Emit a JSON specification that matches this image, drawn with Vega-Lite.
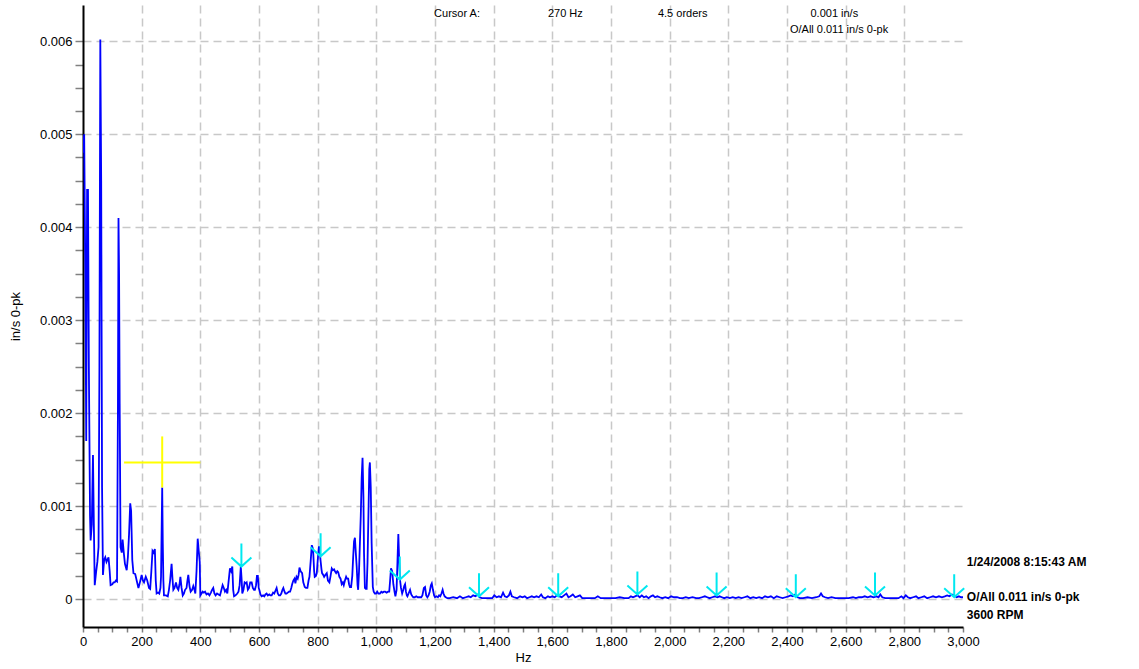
{
  "$schema": "https://vega.github.io/schema/vega-lite/v6.json",
  "width": 880,
  "height": 622,
  "autosize": "none",
  "padding": {"left": 83, "top": 5, "right": 176, "bottom": 42},
  "background": "white",
  "config": {"view": {"stroke": null}, "font": "Liberation Sans"},
  "datasets": {
    "spectrum": [
      {"hz":0,"v":0.0048},{"hz":4,"v":0.005},{"hz":8,"v":0.0035},{"hz":11,"v":0.0017},{"hz":14,"v":0.0044},{"hz":17,"v":0.0044},{"hz":20,"v":0.0025},{"hz":24,"v":0.0009},{"hz":26,"v":0.00063},{"hz":30,"v":0.0008},{"hz":34,"v":0.00155},{"hz":37,"v":0.0008},{"hz":40,"v":0.00015},{"hz":45,"v":0.0003},{"hz":49,"v":0.0004},{"hz":53,"v":0.00056},{"hz":56,"v":0.0025},{"hz":59,"v":0.00602},{"hz":62,"v":0.0045},{"hz":65,"v":0.0012},{"hz":68,"v":0.00026},{"hz":72,"v":0.00042},{"hz":76,"v":0.00045},{"hz":80,"v":0.0004},{"hz":87,"v":0.00045},{"hz":91,"v":0.0003},{"hz":94,"v":0.00015},{"hz":100,"v":0.00016},{"hz":104,"v":0.00018},{"hz":108,"v":0.00018},{"hz":112,"v":0.0002},{"hz":116,"v":0.00019},{"hz":119,"v":0.002},{"hz":121,"v":0.0041},{"hz":123,"v":0.0035},{"hz":125,"v":0.0021},{"hz":128,"v":0.00056},{"hz":132,"v":0.0005},{"hz":135,"v":0.00064},{"hz":139,"v":0.0005},{"hz":143,"v":0.00038},{"hz":149,"v":0.00031},{"hz":153,"v":0.00045},{"hz":157,"v":0.0007},{"hz":161,"v":0.00103},{"hz":164,"v":0.00095},{"hz":168,"v":0.00042},{"hz":172,"v":0.00028},{"hz":178,"v":0.00027},{"hz":183,"v":0.0002},{"hz":189,"v":0.00012},{"hz":194,"v":0.00018},{"hz":200,"v":0.00026},{"hz":204,"v":0.0002},{"hz":208,"v":0.00018},{"hz":214,"v":0.00024},{"hz":219,"v":0.0002},{"hz":225,"v":0.00012},{"hz":229,"v":0.00011},{"hz":233,"v":0.0003},{"hz":237,"v":0.00052},{"hz":241,"v":0.0005},{"hz":245,"v":0.00054},{"hz":248,"v":0.0002},{"hz":251,"v":0.00006},{"hz":256,"v":0.00007},{"hz":260,"v":0.00006},{"hz":264,"v":0.00012},{"hz":266,"v":0.00024},{"hz":270,"v":0.0012},{"hz":272,"v":0.0006},{"hz":274,"v":0.0002},{"hz":276,"v":0.00004},{"hz":283,"v":0.00004},{"hz":289,"v":0.00003},{"hz":293,"v":0.0001},{"hz":297,"v":0.0002},{"hz":302,"v":0.00038},{"hz":305,"v":0.00022},{"hz":308,"v":0.0001},{"hz":312,"v":0.00012},{"hz":317,"v":0.00018},{"hz":321,"v":0.00012},{"hz":325,"v":0.0001},{"hz":329,"v":0.00016},{"hz":332,"v":0.00024},{"hz":336,"v":0.00012},{"hz":340,"v":0.00004},{"hz":344,"v":0.00006},{"hz":348,"v":0.0001},{"hz":353,"v":0.00012},{"hz":356,"v":0.0002},{"hz":359,"v":0.00026},{"hz":363,"v":0.00014},{"hz":367,"v":0.00008},{"hz":372,"v":0.0001},{"hz":376,"v":0.00014},{"hz":380,"v":0.0001},{"hz":383,"v":0.00006},{"hz":387,"v":0.0003},{"hz":391,"v":0.00065},{"hz":395,"v":0.0005},{"hz":398,"v":0.0004},{"hz":400,"v":0.00004},
      {"hz":404,"v":0.00006},{"hz":408,"v":0.00008},{"hz":412,"v":0.00007},{"hz":416,"v":0.00008},{"hz":421,"v":0.00005},{"hz":426,"v":0.00006},{"hz":431,"v":0.00004},{"hz":436,"v":0.00007},{"hz":440,"v":0.0001},{"hz":444,"v":0.00012},{"hz":448,"v":0.00006},{"hz":452,"v":0.00004},{"hz":457,"v":0.00006},{"hz":462,"v":0.00005},{"hz":467,"v":0.00004},{"hz":472,"v":0.0001},{"hz":476,"v":0.00015},{"hz":480,"v":0.00012},{"hz":484,"v":0.00008},{"hz":488,"v":0.0001},{"hz":492,"v":0.00006},{"hz":496,"v":0.00018},{"hz":501,"v":0.00033},{"hz":505,"v":0.0003},{"hz":509,"v":0.00035},{"hz":512,"v":0.0001},{"hz":515,"v":0.00003},{"hz":520,"v":0.00004},{"hz":526,"v":0.00006},{"hz":530,"v":0.00008},{"hz":534,"v":0.00015},{"hz":538,"v":0.00035},{"hz":541,"v":0.0002},{"hz":543,"v":0.00006},{"hz":547,"v":0.0001},{"hz":551,"v":0.00018},{"hz":555,"v":0.00017},{"hz":558,"v":0.00018},{"hz":562,"v":0.0001},{"hz":566,"v":0.00012},{"hz":570,"v":0.00018},{"hz":575,"v":0.00018},{"hz":579,"v":0.00012},{"hz":583,"v":0.0001},{"hz":586,"v":0.0001},{"hz":590,"v":0.00015},{"hz":593,"v":0.00025},{"hz":596,"v":0.00025},{"hz":599,"v":0.00012},{"hz":601,"v":0.0001},{"hz":605,"v":0.00005},{"hz":609,"v":0.00003},{"hz":614,"v":0.00004},{"hz":618,"v":0.00003},{"hz":622,"v":0.00005},{"hz":626,"v":0.00006},{"hz":630,"v":0.00004},{"hz":635,"v":0.00005},{"hz":639,"v":0.00004},{"hz":643,"v":0.00004},{"hz":648,"v":0.00007},{"hz":652,"v":0.00006},{"hz":656,"v":0.00009},{"hz":660,"v":0.00012},{"hz":664,"v":0.00006},{"hz":668,"v":0.00004},{"hz":672,"v":0.00004},{"hz":676,"v":0.00006},{"hz":680,"v":0.0001},{"hz":683,"v":0.00012},{"hz":687,"v":0.00008},{"hz":690,"v":0.00006},{"hz":694,"v":0.00006},{"hz":698,"v":0.00007},{"hz":702,"v":0.00008},{"hz":706,"v":0.00008},{"hz":710,"v":0.00012},{"hz":713,"v":0.00016},{"hz":717,"v":0.0002},{"hz":721,"v":0.00022},{"hz":724,"v":0.00017},{"hz":728,"v":0.00024},{"hz":732,"v":0.00022},{"hz":735,"v":0.00026},{"hz":738,"v":0.00034},{"hz":742,"v":0.0003},{"hz":747,"v":0.00028},{"hz":751,"v":0.00018},{"hz":756,"v":0.00013},{"hz":760,"v":0.00012},{"hz":765,"v":0.00012},{"hz":769,"v":0.0002},{"hz":772,"v":0.00024},{"hz":776,"v":0.0004},{"hz":780,"v":0.00058},{"hz":783,"v":0.00055},{"hz":785,"v":0.00049},{"hz":788,"v":0.0003},{"hz":790,"v":0.00024},{"hz":794,"v":0.00025},{"hz":797,"v":0.00028},{"hz":801,"v":0.00045},{"hz":804,"v":0.00056},{"hz":806,"v":0.00056},{"hz":808,"v":0.00048},{"hz":810,"v":0.00041},{"hz":813,"v":0.00032},{"hz":815,"v":0.00028},{"hz":819,"v":0.00026},{"hz":822,"v":0.00024},{"hz":826,"v":0.00026},{"hz":831,"v":0.00028},{"hz":835,"v":0.0002},{"hz":840,"v":0.00018},{"hz":844,"v":0.00025},{"hz":848,"v":0.00033},{"hz":852,"v":0.00031},{"hz":856,"v":0.00032},{"hz":859,"v":0.0003},{"hz":863,"v":0.00028},{"hz":867,"v":0.0003},{"hz":870,"v":0.00029},{"hz":874,"v":0.00024},{"hz":878,"v":0.00022},{"hz":882,"v":0.00016},{"hz":886,"v":0.00018},{"hz":889,"v":0.00015},{"hz":893,"v":0.0002},{"hz":897,"v":0.00024},{"hz":900,"v":0.00022},{"hz":904,"v":0.00022},{"hz":907,"v":0.00016},{"hz":910,"v":0.00013},{"hz":914,"v":0.00013},{"hz":918,"v":0.00025},{"hz":921,"v":0.00045},{"hz":924,"v":0.00062},{"hz":927,"v":0.00066},{"hz":930,"v":0.0005},{"hz":933,"v":0.00035},{"hz":936,"v":0.00015},{"hz":938,"v":0.0001},{"hz":941,"v":0.0003},{"hz":944,"v":0.0006},{"hz":947,"v":0.0009},{"hz":950,"v":0.0013},{"hz":953,"v":0.00152},{"hz":956,"v":0.0011},{"hz":958,"v":0.0005},{"hz":961,"v":0.00012},{"hz":964,"v":0.00011},{"hz":967,"v":0.00011},{"hz":970,"v":0.0004},{"hz":973,"v":0.0009},{"hz":976,"v":0.0014},{"hz":978,"v":0.00147},{"hz":981,"v":0.0012},{"hz":984,"v":0.0006},{"hz":988,"v":0.00013},{"hz":991,"v":0.00008},{"hz":995,"v":0.00006},{"hz":999,"v":0.00006},{"hz":1003,"v":0.00008},{"hz":1007,"v":0.00006},{"hz":1012,"v":0.00006},{"hz":1017,"v":0.00008},{"hz":1021,"v":0.00007},{"hz":1026,"v":0.00008},{"hz":1030,"v":0.00008},{"hz":1035,"v":0.00007},{"hz":1040,"v":0.00008},{"hz":1044,"v":0.00008},{"hz":1047,"v":0.0002},{"hz":1050,"v":0.00033},{"hz":1054,"v":0.0003},{"hz":1058,"v":0.00016},{"hz":1062,"v":0.00008},{"hz":1065,"v":0.00003},{"hz":1069,"v":0.0001},{"hz":1072,"v":0.0004},{"hz":1075,"v":0.0007},{"hz":1078,"v":0.0004},{"hz":1081,"v":0.0002},{"hz":1084,"v":0.00012},{"hz":1088,"v":0.00006},{"hz":1092,"v":0.0001},{"hz":1095,"v":0.00014},{"hz":1098,"v":0.00016},{"hz":1101,"v":0.00008},{"hz":1104,"v":0.00004},{"hz":1106,"v":0.00003},{"hz":1110,"v":0.00006},{"hz":1115,"v":0.0001},{"hz":1119,"v":0.00005},{"hz":1123,"v":0.00003},{"hz":1126,"v":0.00002},{"hz":1131,"v":0.00002},{"hz":1136,"v":0.00003},{"hz":1141,"v":0.00002},{"hz":1145,"v":0.00002},{"hz":1149,"v":0.00002},{"hz":1153,"v":0.00002},{"hz":1157,"v":0.00004},{"hz":1162,"v":0.00012},{"hz":1166,"v":0.00013},{"hz":1170,"v":0.00004},{"hz":1174,"v":0.00002},{"hz":1178,"v":0.00004},{"hz":1182,"v":0.00008},{"hz":1186,"v":0.00015},{"hz":1189,"v":0.00017},{"hz":1193,"v":0.0001},{"hz":1197,"v":0.00004},{"hz":1200,"v":0.00002},{"hz":1205,"v":0.00003},{"hz":1210,"v":0.00002},{"hz":1214,"v":0.00004},{"hz":1218,"v":0.00003},{"hz":1222,"v":0.00006},{"hz":1226,"v":0.0001},{"hz":1229,"v":0.00006},{"hz":1233,"v":0.00003},{"hz":1237,"v":0.00002},{"hz":1242,"v":0.00001},
      {"hz":1250,"v":0.00001},{"hz":1262,"v":0.00002},{"hz":1275,"v":0.00001},{"hz":1285,"v":0.00003},{"hz":1295,"v":0.00001},{"hz":1305,"v":0.00002},{"hz":1315,"v":0.00003},{"hz":1322,"v":0.00002},{"hz":1330,"v":0.00004},{"hz":1338,"v":0.00003},{"hz":1346,"v":0.00005},{"hz":1352,"v":0.00002},{"hz":1360,"v":0.00001},{"hz":1372,"v":0.00001},{"hz":1385,"v":0.00001},{"hz":1395,"v":0.00001},{"hz":1402,"v":0.00004},{"hz":1410,"v":0.00002},{"hz":1418,"v":0.00003},{"hz":1425,"v":0.00002},{"hz":1432,"v":0.00007},{"hz":1438,"v":0.00003},{"hz":1445,"v":0.00002},{"hz":1452,"v":0.00004},{"hz":1457,"v":0.00008},{"hz":1462,"v":0.00003},{"hz":1470,"v":0.00002},{"hz":1480,"v":0.00001},{"hz":1490,"v":0.00003},{"hz":1498,"v":0.00002},{"hz":1506,"v":0.00003},{"hz":1514,"v":0.00001},{"hz":1522,"v":0.00002},{"hz":1530,"v":0.00003},{"hz":1538,"v":0.00002},{"hz":1546,"v":0.00003},{"hz":1554,"v":0.00002},{"hz":1562,"v":0.00005},{"hz":1568,"v":0.00002},{"hz":1576,"v":0.00001},{"hz":1585,"v":0.00003},{"hz":1592,"v":0.00002},{"hz":1600,"v":0.00003},{"hz":1608,"v":0.00002},{"hz":1616,"v":0.00004},{"hz":1624,"v":0.00003},{"hz":1632,"v":0.00002},{"hz":1640,"v":0.00004},{"hz":1648,"v":0.00006},{"hz":1655,"v":0.00002},{"hz":1662,"v":0.00003},{"hz":1670,"v":0.00005},{"hz":1678,"v":0.00002},{"hz":1686,"v":0.00003},{"hz":1694,"v":0.00004},{"hz":1702,"v":0.00001},{"hz":1715,"v":0.00001},{"hz":1730,"v":0.00001},{"hz":1745,"v":0.00001},{"hz":1755,"v":0.00003},{"hz":1765,"v":0.00001},{"hz":1780,"v":0.00001},{"hz":1800,"v":0.00001},{"hz":1815,"v":0.00001},{"hz":1830,"v":0.00002},{"hz":1845,"v":0.00001},{"hz":1860,"v":0.00001},{"hz":1868,"v":0.00003},{"hz":1875,"v":0.00002},{"hz":1882,"v":0.00003},{"hz":1890,"v":0.00004},{"hz":1898,"v":0.00002},{"hz":1905,"v":0.00004},{"hz":1912,"v":0.00002},{"hz":1920,"v":0.00003},{"hz":1928,"v":0.00001},{"hz":1936,"v":0.00003},{"hz":1943,"v":0.00004},{"hz":1950,"v":0.00002},{"hz":1958,"v":0.00003},{"hz":1966,"v":0.00002},{"hz":1975,"v":0.00001},{"hz":1985,"v":0.00002},{"hz":1995,"v":0.00001},{"hz":2005,"v":0.00003},{"hz":2015,"v":0.00002},{"hz":2025,"v":0.00002},{"hz":2035,"v":0.00001},{"hz":2045,"v":0.00001},{"hz":2055,"v":0.00002},{"hz":2065,"v":0.00001},{"hz":2078,"v":0.00002},{"hz":2090,"v":0.00001},{"hz":2100,"v":0.00001},{"hz":2110,"v":0.00002},{"hz":2120,"v":0.00003},{"hz":2128,"v":0.00002},{"hz":2136,"v":0.00001},{"hz":2145,"v":0.00002},{"hz":2155,"v":0.00003},{"hz":2163,"v":0.00002},{"hz":2170,"v":0.00003},{"hz":2178,"v":0.00002},{"hz":2186,"v":0.00001},{"hz":2195,"v":0.00002},{"hz":2205,"v":0.00001},{"hz":2215,"v":0.00002},{"hz":2225,"v":0.00001},{"hz":2235,"v":0.00002},{"hz":2245,"v":0.00001},{"hz":2255,"v":0.00002},{"hz":2265,"v":0.00003},{"hz":2275,"v":0.00001},{"hz":2285,"v":0.00002},{"hz":2295,"v":0.00001},{"hz":2305,"v":0.00002},{"hz":2315,"v":0.00001},{"hz":2325,"v":0.00003},{"hz":2335,"v":0.00002},{"hz":2345,"v":0.00003},{"hz":2355,"v":0.00001},{"hz":2365,"v":0.00003},{"hz":2375,"v":0.00002},{"hz":2385,"v":0.00001},{"hz":2395,"v":0.00002},{"hz":2405,"v":0.00003},{"hz":2412,"v":0.00004},{"hz":2420,"v":0.00003},{"hz":2428,"v":0.00005},{"hz":2436,"v":0.00002},{"hz":2444,"v":0.00001},{"hz":2455,"v":0.00001},{"hz":2470,"v":0.00002},{"hz":2485,"v":0.00001},{"hz":2500,"v":0.00002},{"hz":2510,"v":0.00003},{"hz":2516,"v":0.00006},{"hz":2522,"v":0.00003},{"hz":2530,"v":0.00002},{"hz":2540,"v":0.00001},{"hz":2552,"v":0.00002},{"hz":2565,"v":0.00001},{"hz":2580,"v":0.00001},{"hz":2595,"v":0.00001},{"hz":2610,"v":0.00001},{"hz":2625,"v":0.00002},{"hz":2635,"v":0.00001},{"hz":2645,"v":0.00002},{"hz":2655,"v":0.00002},{"hz":2665,"v":0.00003},{"hz":2675,"v":0.00002},{"hz":2685,"v":0.00003},{"hz":2695,"v":0.00002},{"hz":2705,"v":0.00003},{"hz":2712,"v":0.00002},{"hz":2718,"v":0.00005},{"hz":2725,"v":0.00002},{"hz":2735,"v":0.00001},{"hz":2750,"v":0.00001},{"hz":2765,"v":0.00001},{"hz":2780,"v":0.00001},{"hz":2790,"v":0.00003},{"hz":2797,"v":0.00001},{"hz":2805,"v":0.00004},{"hz":2812,"v":0.00002},{"hz":2820,"v":0.00001},{"hz":2830,"v":0.00002},{"hz":2840,"v":0.00003},{"hz":2848,"v":0.00001},{"hz":2858,"v":0.00002},{"hz":2868,"v":0.00003},{"hz":2878,"v":0.00001},{"hz":2888,"v":0.00002},{"hz":2898,"v":0.00003},{"hz":2908,"v":0.00002},{"hz":2918,"v":0.00003},{"hz":2928,"v":0.00002},{"hz":2938,"v":0.00003},{"hz":2946,"v":0.00004},{"hz":2954,"v":0.00003},{"hz":2962,"v":0.00005},{"hz":2970,"v":0.00004},{"hz":2978,"v":0.00002},{"hz":2986,"v":0.00003},{"hz":2994,"v":0.00002},{"hz":3000,"v":0.00002}
    ],
    "harmonics": [
      {"hz":540,"v":0.00035},{"hz":810,"v":0.00046},{"hz":1080,"v":0.00021},{"hz":1350,"v":0.00003},{"hz":1620,"v":0.00003},{"hz":1890,"v":0.00005},{"hz":2160,"v":0.00004},{"hz":2430,"v":0.00002},{"hz":2700,"v":0.00004},{"hz":2970,"v":0.00002}
    ],
    "cursor": [
      {"hz":140,"hz2":400,"v":0.00147,"v2":0.00147},
      {"hz":270,"hz2":270,"v":0.0012,"v2":0.00175}
    ],
    "header": [
      {"hz":1197,"v":0.00629,"t":"Cursor A:"},
      {"hz":1585,"v":0.00629,"t":"270 Hz"},
      {"hz":1960,"v":0.00629,"t":"4.5 orders"},
      {"hz":2480,"v":0.00629,"t":"0.001 in/s"},
      {"hz":2410,"v":0.00612,"t":"O/All 0.011 in/s 0-pk"}
    ],
    "side": [
      {"hz":3013,"v":0.0004,"t":"1/24/2008 8:15:43 AM"},
      {"hz":3013,"v":0.00002,"t":"O/All 0.011 in/s 0-pk"},
      {"hz":3013,"v":-0.00017,"t":"3600 RPM"}
    ]
  },
  "encoding": {
    "x": {
      "field": "hz", "type": "quantitative",
      "scale": {"domain": [0, 3000], "nice": false, "zero": false},
      "axis": {
        "title": "Hz",
        "values": [0,50,100,150,200,250,300,350,400,450,500,550,600,650,700,750,800,850,900,950,1000,1050,1100,1150,1200,1250,1300,1350,1400,1450,1500,1550,1600,1650,1700,1750,1800,1850,1900,1950,2000,2050,2100,2150,2200,2250,2300,2350,2400,2450,2500,2550,2600,2650,2700,2750,2800,2850,2900,2950,3000],
        "labelExpr": "datum.value % 200 === 0 ? format(datum.value, ',') : ''",
        "labelOverlap": false,
        "labelFlush": false,
        "labelFont": "Liberation Sans",
        "labelFontSize": 13,
        "labelColor": "#000000",
        "labelPadding": 3,
        "tickColor": "#808080",
        "tickWidth": 1.5,
        "tickSize": 5,
        "domainColor": "#000000",
        "domainWidth": 2,
        "grid": true,
        "gridColor": "#c8c8c8",
        "gridDash": [8, 5],
        "gridWidth": 1.5,
        "gridOpacity": {"condition": {"test": "datum.value % 200 === 0 && datum.value > 0 && datum.value < 3000", "value": 1}, "value": 0},
        "titleFont": "Liberation Sans",
        "titleFontSize": 13,
        "titleFontWeight": "normal",
        "titleColor": "#000000",
        "titlePadding": 3
      }
    },
    "y": {
      "field": "v", "type": "quantitative",
      "scale": {"domain": [-0.0003, 0.00639], "nice": false, "zero": false},
      "axis": {
        "title": "in/s 0-pk",
        "values": [0,0.00025,0.0005,0.00075,0.001,0.00125,0.0015,0.00175,0.002,0.00225,0.0025,0.00275,0.003,0.00325,0.0035,0.00375,0.004,0.00425,0.0045,0.00475,0.005,0.00525,0.0055,0.00575,0.006],
        "labelExpr": "abs(datum.value * 1000 - round(datum.value * 1000)) < 0.001 ? (datum.value == 0 ? '0' : format(datum.value, '.3f')) : ''",
        "labelOverlap": false,
        "labelFont": "Liberation Sans",
        "labelFontSize": 13,
        "labelColor": "#000000",
        "labelPadding": 3,
        "tickColor": "#808080",
        "tickWidth": 1.5,
        "tickSize": 8,
        "domainColor": "#000000",
        "domainWidth": 2,
        "grid": true,
        "gridColor": "#c8c8c8",
        "gridDash": [8, 5],
        "gridWidth": 1.5,
        "gridOpacity": {"condition": {"test": "abs(datum.value * 1000 - round(datum.value * 1000)) < 0.001", "value": 1}, "value": 0},
        "titleFont": "Liberation Sans",
        "titleFontSize": 13,
        "titleFontWeight": "normal",
        "titleColor": "#000000",
        "titleAngle": -90,
        "titleX": -68,
        "titleY": 311,
        "titleAlign": "center",
        "titleBaseline": "middle"
      }
    }
  },
  "layer": [
    {
      "data": {"name": "spectrum"},
      "mark": {"type": "line", "color": "#0000ff", "strokeWidth": 1.8, "clip": true}
    },
    {
      "data": {"name": "cursor"},
      "mark": {"type": "rule", "color": "#ffff00", "strokeWidth": 2},
      "encoding": {
        "x2": {"field": "hz2"},
        "y2": {"field": "v2"}
      }
    },
    {
      "data": {"name": "harmonics"},
      "mark": {"type": "point", "shape": "M0,-2L0,0M-0.87,-0.78L0,0L0.87,-0.78", "size": 529, "filled": false, "color": "#00e8f0", "strokeWidth": 2, "opacity": 1}
    },
    {
      "data": {"name": "header"},
      "mark": {"type": "text", "align": "left", "baseline": "middle", "font": "Liberation Sans", "fontSize": 11, "color": "#000000"},
      "encoding": {"text": {"field": "t"}}
    },
    {
      "data": {"name": "side"},
      "mark": {"type": "text", "align": "left", "baseline": "middle", "font": "Liberation Sans", "fontSize": 12, "fontWeight": "bold", "color": "#000000"},
      "encoding": {"text": {"field": "t"}}
    }
  ]
}
